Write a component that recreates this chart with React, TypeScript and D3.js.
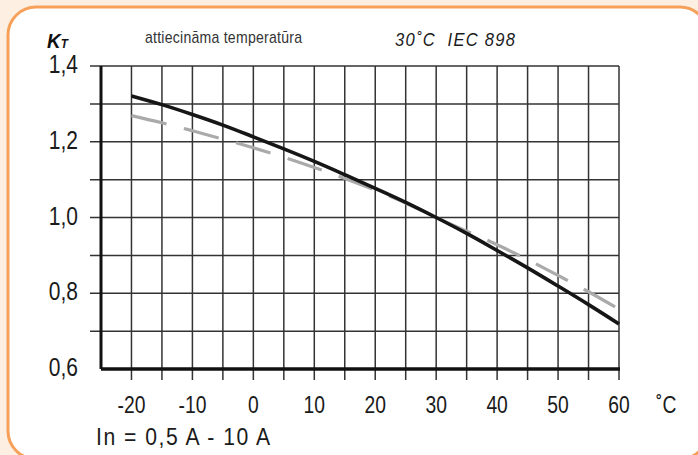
import * as d3 from "d3";
import React from "react";

// temperatures (°C) at which the curves are read
const temps = [-20, -15, -10, -5, 0, 5, 10, 15, 20, 25, 30, 35, 40, 45, 50, 55, 60];
// K_T, solid black curve
const kSolid = [1.321, 1.298, 1.272, 1.244, 1.213, 1.181, 1.148, 1.113, 1.077, 1.04, 1.0, 0.958, 0.913, 0.867, 0.819, 0.77, 0.719];
// K_T, dashed grey curve
const kDashed = [1.269, 1.25, 1.229, 1.207, 1.184, 1.159, 1.132, 1.103, 1.072, 1.038, 1.0, 0.964, 0.928, 0.889, 0.847, 0.804, 0.758];

const xTicks = [-20, -10, 0, 10, 20, 30, 40, 50, 60];
const yTicks = [0.6, 0.8, 1.0, 1.2, 1.4];
const xGrid = d3.range(-20, 61, 5);
const yGrid = d3.range(0.7, 1.41, 0.1);

const W = 698;
const H = 455;
const FONT = "'Liberation Sans', Arial, sans-serif";

// condensed text: the regular face squeezed horizontally, spacing stretched to a width if given
function Narrow({ x, y, anchor = "start", size, sx = 0.84, len, italic = false, bold = false, fill = "#1a1a1a", children }: any) {
  return (
    <g transform={`translate(${x},${y}) scale(${sx},1)`}>
      <text
        x={0}
        y={0}
        textAnchor={anchor}
        fontFamily={FONT}
        fontSize={size}
        fontStyle={italic ? "italic" : "normal"}
        fontWeight={bold ? "bold" : "normal"}
        fill={fill}
        textLength={len ? len / sx : undefined}
        lengthAdjust={len ? "spacing" : undefined}
        style={{ whiteSpace: "pre" }}
      >
        {children}
      </text>
    </g>
  );
}

export default function App() {
  const x = d3.scaleLinear().domain([-25, 60]).range([101, 619]);
  const y = d3.scaleLinear().domain([0.6, 1.4]).range([369, 66]);

  const line = d3
    .line<number>()
    .x((d, i) => x(temps[i]))
    .y((d) => y(d))
    .curve(d3.curveCatmullRom);

  const fmt = (v: number) => v.toFixed(1).replace(".", ",");

  return (
    <svg
      width={W}
      height={H}
      style={{ position: "absolute", left: 0, top: 0, display: "block" }}
    >
      <rect x={0} y={0} width={W} height={H} fill="#fdf0e2" />
      <rect
        x={8}
        y={7}
        width={700}
        height={452}
        rx={28}
        ry={28}
        fill="#ffffff"
        stroke="#f7a05a"
        strokeWidth={3}
      />

      {/* grid */}
      {xGrid.map((t) => (
        <line key={"vx" + t} x1={x(t)} x2={x(t)} y1={y(1.4)} y2={380} stroke="#333" strokeWidth={1.5} />
      ))}
      {yGrid.map((v) => (
        <line key={"hy" + v} x1={90} x2={x(60)} y1={y(v)} y2={y(v)} stroke="#333" strokeWidth={1.5} />
      ))}
      {/* axes */}
      <line x1={x(-25)} x2={x(-25)} y1={y(1.4)} y2={y(0.6)} stroke="#111" strokeWidth={3} />
      <line x1={x(-25)} x2={x(60) + 1} y1={y(0.6)} y2={y(0.6)} stroke="#111" strokeWidth={3.5} />

      {/* curves */}
      <path
        d={line(kDashed) || undefined}
        fill="none"
        stroke="#aaaaaa"
        strokeWidth={3.2}
        strokeDasharray="36 18"
      />
      <path d={line(kSolid) || undefined} fill="none" stroke="#161616" strokeWidth={3.6} />

      {/* y tick labels */}
      {yTicks.map((v) => (
        <Narrow key={"yl" + v} x={78} y={y(v) + 7} anchor="end" size={25}>
          {fmt(v)}
        </Narrow>
      ))}
      {/* x tick labels */}
      {xTicks.map((t) => (
        <Narrow key={"xl" + t} x={x(t)} y={413} anchor="middle" size={23}>
          {t}
        </Narrow>
      ))}
      <Narrow x={656} y={413} size={23}>
        ˚C
      </Narrow>

      {/* titles */}
      <Narrow x={47} y={48} size={21} sx={0.9} bold italic fill="#111">
        K<tspan fontSize={13}>T</tspan>
      </Narrow>
      <Narrow x={145} y={43} size={16} sx={0.88} len={157} fill="#333">
        attiecināma temperatūra
      </Narrow>
      <Narrow x={395} y={46} size={18} sx={0.92} len={120} italic>
        {"30˚C  IEC 898"}
      </Narrow>
      <Narrow x={96} y={445} size={23} sx={0.92} len={174}>
        In = 0,5 A - 10 A
      </Narrow>
    </svg>
  );
}
